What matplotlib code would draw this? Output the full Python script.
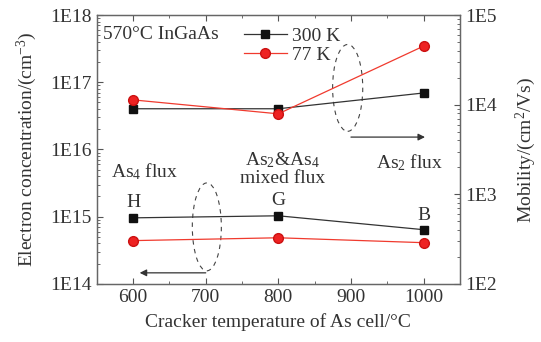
import matplotlib
matplotlib.use("Agg")
import matplotlib.pyplot as plt
from matplotlib.patches import Ellipse
from matplotlib.ticker import LogLocator, NullFormatter, FuncFormatter, MultipleLocator
import numpy as np

plt.rcParams['font.family'] = ['Liberation Serif', 'DejaVu Serif']
plt.rcParams['mathtext.fontset'] = 'custom'
plt.rcParams['mathtext.rm'] = 'Liberation Serif'
plt.rcParams['mathtext.it'] = 'Liberation Serif:italic'

# Data
temps = [600, 800, 1000]
conc_300K = [9.6e14, 1.03e15, 6.4e14]
conc_77K = [4.4e14, 4.85e14, 4.1e14]
mob_300K = [9000, 9000, 13500]
mob_77K = [11300, 7900, 45000]
sample_labels = ["H", "G", "B"]
series_labels = ["300 K", "77 K"]

tc = '#333333'
red = '#f03a2e'

fig = plt.figure(figsize=(5.41, 3.42), dpi=100)
ax = fig.add_axes([0.179, 0.170, 0.671, 0.786])
ax2 = ax.twinx()

fs = 14
l1, = ax.plot(temps, conc_300K, color='#333333', lw=0.9, marker='s', ms=6,
              mfc='#111111', mec='#111111', label=series_labels[0])
l2, = ax.plot(temps, conc_77K, color=red, lw=0.9, marker='o', ms=7,
              mfc='#ee2222', mec='#cc1111', label=series_labels[1])
ax2.plot(temps, mob_300K, color='#333333', lw=0.9, marker='s', ms=6,
         mfc='#111111', mec='#111111')
ax2.plot(temps, mob_77K, color=red, lw=0.9, marker='o', ms=7,
         mfc='#ee2222', mec='#cc1111')

ax.set_yscale('log')
ax2.set_yscale('log')
ax.set_ylim(1e14, 1e18)
ax2.set_ylim(1e2, 1e5)
ax.set_xlim(550, 1050)
ax.xaxis.set_major_locator(MultipleLocator(100))
ax.xaxis.set_minor_locator(MultipleLocator(50))

def efmt(v, pos):
    e = int(round(np.log10(v)))
    return "1E%d" % e

for a in (ax, ax2):
    a.yaxis.set_major_locator(LogLocator(base=10, numticks=10))
    a.yaxis.set_minor_locator(LogLocator(base=10, subs=np.arange(2, 10), numticks=10))
    a.yaxis.set_minor_formatter(NullFormatter())
    a.yaxis.set_major_formatter(FuncFormatter(efmt))

ax.tick_params(axis='both', which='major', direction='in', length=4, width=0.8,
               labelsize=fs, colors='#555555', labelcolor=tc, top=True, pad=4)
ax.tick_params(axis='both', which='minor', direction='in', length=2, width=0.6,
               colors='#555555', top=True)
ax2.tick_params(axis='y', which='major', direction='in', length=4, width=0.8,
                labelsize=fs, colors='#555555', labelcolor=tc, pad=4)
ax2.tick_params(axis='y', which='minor', direction='in', length=2, width=0.6, colors='#555555')
for a in (ax, ax2):
    for s in a.spines.values():
        s.set_color('#666666')
        s.set_linewidth(0.9)

ax.set_xlabel("Cracker temperature of As cell/°C", fontsize=fs, color=tc, labelpad=5)
ax.set_ylabel("Electron concentration/(cm$^{-3}$)", fontsize=fs, color=tc, labelpad=8)
ax2.set_ylabel("Mobility/(cm$^{2}$/Vs)", fontsize=fs, color=tc, labelpad=12)

leg = ax.legend(handles=[l1, l2], loc='upper left', bbox_to_anchor=(0.37, 1.0),
                frameon=False, fontsize=fs, handlelength=2.2, handletextpad=0.3,
                labelspacing=0.05, borderaxespad=0.25)
for t in leg.get_texts():
    t.set_color(tc)

ax.text(0.017, 0.926, "570°C InGaAs", transform=ax.transAxes, fontsize=fs,
        color=tc, ha='left', va='center')
ax.text(0.132, 0.416, "As$_4$ flux", transform=ax.transAxes, fontsize=fs,
        color=tc, ha='center', va='center')
ax.text(0.512, 0.428, "As$_2$&As$_4$\nmixed flux", transform=ax.transAxes, fontsize=fs,
        color=tc, ha='center', va='center', linespacing=1.0)
ax.text(0.862, 0.45, "As$_2$ flux", transform=ax.transAxes, fontsize=fs,
        color=tc, ha='center', va='center')

offs = [11, 11, 10]
for x, y, lab, o in zip(temps, conc_300K, sample_labels, offs):
    ax.annotate(lab, xy=(x, y), xytext=(0, o), textcoords='offset points',
                ha='center', va='center', fontsize=fs, color=tc)

# dashed ellipses and arrows
e1 = Ellipse((0.303, 0.212), 0.08, 0.327, transform=ax.transAxes, fill=False,
             ls=(0, (4, 4)), lw=0.8, ec='#444444')
e2 = Ellipse((0.691, 0.729), 0.083, 0.323, transform=ax.transAxes, fill=False,
             ls=(0, (4, 4)), lw=0.8, ec='#444444')
ax.add_patch(e1)
ax.add_patch(e2)
ax.annotate("", xy=(0.118, 0.041), xytext=(0.30, 0.041), xycoords='axes fraction',
            arrowprops=dict(arrowstyle='-|>', color='#333333', lw=0.9,
                            mutation_scale=10, shrinkA=0, shrinkB=0))
ax.annotate("", xy=(0.904, 0.546), xytext=(0.70, 0.546), xycoords='axes fraction',
            arrowprops=dict(arrowstyle='-|>', color='#333333', lw=0.9,
                            mutation_scale=10, shrinkA=0, shrinkB=0))

fig.savefig("out.png", dpi=100)
